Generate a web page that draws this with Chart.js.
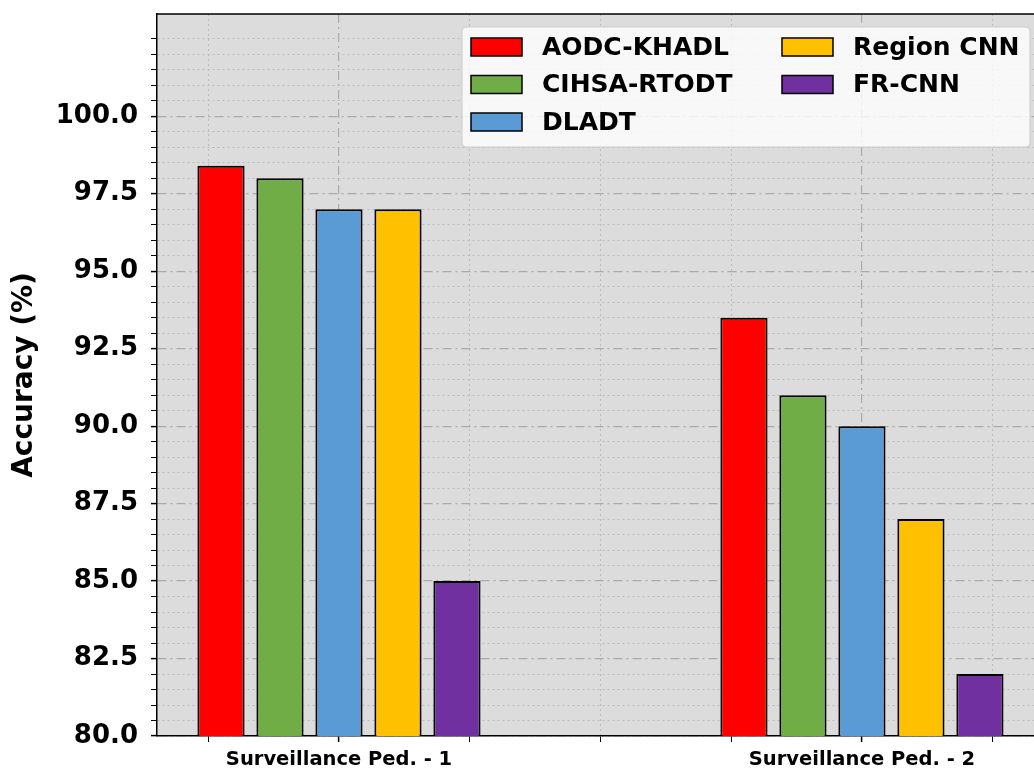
<!DOCTYPE html>
<html>
<head>
<meta charset="utf-8">
<script src="https://cdn.jsdelivr.net/npm/chart.js@4.4.1/dist/chart.umd.min.js"></script>
<style>
  html, body { margin: 0; padding: 0; background: #fff; overflow: hidden; }
  #wrap { width: 1034px; height: 770px; }
</style>
</head>
<body>
<div id="wrap"><canvas id="graficoAccuracy" width="1034" height="770"></canvas></div>
<script>
// datos
const categorias = ['Surveillance Ped. - 1', 'Surveillance Ped. - 2'];
const modelos = ['AODC-KHADL', 'CIHSA-RTODT', 'DLADT', 'Region CNN', 'FR-CNN'];
const aodcKhadl = [98.4, 93.5];
const cihsaRtodt = [98.0, 91.0];
const dladt = [97.0, 90.0];
const regionCnn = [97.0, 87.0];
const frCnn = [85.0, 82.0];
const colores = ['#FF0000', '#70AD47', '#5B9BD5', '#FFC000', '#7030A0'];
const yTickLabels = [80, 82.5, 85, 87.5, 90, 92.5, 95, 97.5, 100];
const xGridPos = [-0.25, 0, 0.25, 0.5, 0.75, 1, 1.25];

const series = [aodcKhadl, cihsaRtodt, dladt, regionCnn, frCnn];
const FUENTE = '"DejaVu Sans", sans-serif';

const esMayorY = v => yTickLabels.some(t => Math.abs(t - v) < 1e-6);
const esMayorX = v => Number.isInteger(v);

// fondo gris del area y borde superior
const fondoPlugin = {
  id: 'fondo',
  beforeDraw(chart) {
    const { ctx, chartArea: a } = chart;
    ctx.save();
    ctx.fillStyle = '#dcdcdc';
    ctx.fillRect(a.left, a.top, a.right - a.left, a.bottom - a.top);
    ctx.restore();
  },
  afterDraw(chart) {
    const { ctx, chartArea: a } = chart;
    ctx.save();
    ctx.strokeStyle = '#000';
    ctx.lineWidth = 1.5;
    ctx.beginPath();
    ctx.moveTo(a.left, a.top);
    ctx.lineTo(a.right, a.top);
    ctx.stroke();
    ctx.restore();
  }
};

// leyenda en dos columnas (orden por columnas, como matplotlib)
const leyendaPlugin = {
  id: 'leyendaColumnas',
  afterDatasetsDraw(chart) {
    const { ctx, chartArea: a } = chart;
    const w = 568, h = 120;
    const x0 = a.right - 4 - w, y0 = a.top + 13;
    ctx.save();
    ctx.fillStyle = 'rgba(255,255,255,0.8)';
    ctx.strokeStyle = '#cccccc';
    ctx.lineWidth = 1;
    ctx.beginPath();
    ctx.roundRect(x0, y0, w, h, 4);
    ctx.fill();
    ctx.stroke();
    ctx.font = 'bold 25px ' + FUENTE;
    ctx.textBaseline = 'middle';
    ctx.textAlign = 'left';
    chart.data.datasets.forEach((ds, i) => {
      const col = i < 3 ? 0 : 1;
      const fila = i < 3 ? i : i - 3;
      const sx = x0 + 9 + col * 311;
      const cy = y0 + 20 + fila * 37.5;
      ctx.fillStyle = ds.backgroundColor;
      ctx.fillRect(sx, cy - 9, 51, 18);
      ctx.strokeStyle = '#000';
      ctx.lineWidth = 1.5;
      ctx.strokeRect(sx, cy - 9, 51, 18);
      ctx.fillStyle = '#000';
      ctx.fillText(ds.label, sx + 71, cy + 1);
    });
    ctx.restore();
  }
};

const ctx = document.getElementById('graficoAccuracy').getContext('2d');
new Chart(ctx, {
  type: 'bar',
  data: {
    datasets: modelos.map((m, i) => ({
      label: m,
      data: series[i].map((v, j) => ({ x: j, y: v })),
      backgroundColor: colores[i],
      borderColor: '#000',
      borderWidth: 2,
      borderSkipped: false,
      categoryPercentage: 2.256,
      barPercentage: 0.8
    }))
  },
  options: {
    responsive: false,
    animation: false,
    devicePixelRatio: 1,
    layout: { padding: { top: 14, left: 0, right: 0, bottom: 0 } },
    plugins: {
      legend: { display: false },
      tooltip: { enabled: false }
    },
    scales: {
      x: {
        type: 'linear',
        offset: false,
        min: -0.348,
        max: 1.329,
        afterBuildTicks: s => { s.ticks = xGridPos.map(v => ({ value: v })); },
        afterFit: s => { s.height = 34; s.paddingLeft = 0; s.paddingRight = 0; },
        ticks: {
          autoSkip: false,
          maxRotation: 0,
          padding: 6,
          color: '#000',
          font: { family: FUENTE, size: 19.5, weight: 'bold' },
          callback: v => esMayorX(v) ? categorias[v] : ''
        },
        grid: {
          offset: false,
          color: c => c.tick && esMayorX(c.tick.value) ? '#aaaaaa' : '#bcbcbc',
          lineWidth: c => c.tick && esMayorX(c.tick.value) ? 1.2 : 1,
          tickLength: 6,
          tickColor: '#000',
          tickWidth: c => c.tick && esMayorX(c.tick.value) ? 1.5 : 1
        },
        border: {
          color: '#000',
          width: 1.5,
          dash: c => !c.tick ? [] : (esMayorX(c.tick.value) ? [9, 4, 2, 4] : [2, 3])
        }
      },
      y: {
        min: 80,
        max: 103.3,
        afterBuildTicks: s => { s.ticks = s.ticks.filter(t => Math.abs(t.value * 2 - Math.round(t.value * 2)) < 1e-6 && t.value <= 103.01); },
        afterFit: s => { s.width = 157; s.paddingTop = 0; s.paddingBottom = 0; },
        ticks: {
          stepSize: 0.5,
          autoSkip: false,
          padding: 13,
          color: '#000',
          font: { family: FUENTE, size: 26, weight: 'bold' },
          callback: v => esMayorY(v) ? v.toFixed(1) : ''
        },
        title: {
          display: true,
          text: 'Accuracy (%)',
          color: '#000',
          padding: { top: 8, bottom: 0 },
          font: { family: FUENTE, size: 28, weight: 'bold' }
        },
        grid: {
          color: c => c.tick && esMayorY(c.tick.value) ? '#aaaaaa' : '#bcbcbc',
          lineWidth: c => c.tick && esMayorY(c.tick.value) ? 1.2 : 1,
          tickLength: 6,
          tickColor: '#000',
          tickWidth: c => c.tick && esMayorY(c.tick.value) ? 1.5 : 1
        },
        border: {
          color: '#000',
          width: 1.5,
          dash: c => !c.tick ? [] : (esMayorY(c.tick.value) ? [9, 4, 2, 4] : [2, 3])
        }
      }
    }
  },
  plugins: [fondoPlugin, leyendaPlugin]
});
</script>
</body>
</html>
